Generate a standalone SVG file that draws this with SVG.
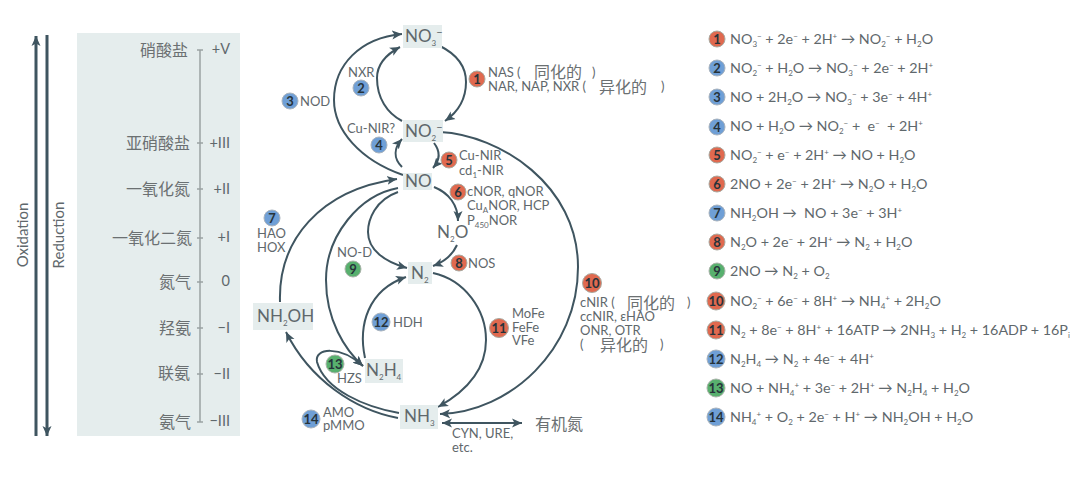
<svg xmlns="http://www.w3.org/2000/svg" width="1080" height="484" viewBox="0 0 1080 484">
<style>
text{font-family:"Lato","Noto Sans CJK SC",sans-serif;fill:#5f686c;font-size:13px}
.cn{font-family:"Noto Sans CJK SC",sans-serif;font-size:16px;fill:#6b7072}
.ax{font-size:14.5px}
.nd{font-size:17px}
.eq{font-size:14.3px}
.s{font-size:8px}
.n{font-family:"Lato",sans-serif;font-weight:700;font-size:13px;fill:#26333a;text-anchor:middle}
.bx{fill:#e5eded}
.r{fill:#e0694f;stroke:#a9a9a0}
.b{fill:#6f9fd6;stroke:#a9b3bd}
.g{fill:#58b06e;stroke:#a9b3a9}
.c{fill:none;stroke:#3f5560;stroke-width:2;marker-end:url(#a)}
.t{stroke:#9aa2a3;stroke-width:1.5;fill:none}
</style>
<defs>
<marker id="a" markerUnits="userSpaceOnUse" markerWidth="11" markerHeight="10" refX="10" refY="5" orient="auto-start-reverse"><path d="M0,0.5L10,5L0,9.5L2.5,5z" fill="#3f5560"/></marker>
</defs>
<rect width="1080" height="484" fill="#fff"/>
<g id="scale">
<rect class="bx" x="77" y="33" width="163" height="403"/>
<path class="t" d="M200,50V422M197,50h6M197,143h6M197,189h6M197,238h6M197,282h6M197,328h6M197,374h6M197,422h6"/>
<text class="cn" text-anchor="end" x="188" y="56">硝酸盐</text>
<text class="cn" text-anchor="end" x="190" y="149">亚硝酸盐</text>
<text class="cn" text-anchor="end" x="190" y="195">一氧化氮</text>
<text class="cn" text-anchor="end" x="192" y="244">一氧化二氮</text>
<text class="cn" text-anchor="end" x="191" y="288">氮气</text>
<text class="cn" text-anchor="end" x="191" y="334">羟氨</text>
<text class="cn" text-anchor="end" x="190" y="379">联氨</text>
<text class="cn" text-anchor="end" x="191" y="428">氨气</text>
<g text-anchor="end">
<text class="ax" x="230" y="54">+V</text>
<text class="ax" x="230" y="148">+III</text>
<text class="ax" x="230" y="194">+II</text>
<text class="ax" x="230" y="242">+I</text>
<text class="ax" x="230" y="286">0</text>
<text class="ax" x="230" y="333">−I</text>
<text class="ax" x="230" y="379">−II</text>
<text class="ax" x="230" y="426">−III</text>
</g>
</g>
<g id="axes">
<path d="M36,436V36" stroke="#3f5560" stroke-width="3" fill="none" marker-end="url(#a)"/>
<path d="M47,35V436" stroke="#3f5560" stroke-width="3" fill="none" marker-end="url(#a)"/>
<text transform="translate(28,235) rotate(-90)" text-anchor="middle" style="font-size:15px">Oxidation</text>
<text transform="translate(64,235) rotate(-90)" text-anchor="middle" style="font-size:15px">Reduction</text>
</g>
<g id="connectors">
<path class="c" d="M440,46C458,55 466,68 466,82C466,100 458,112 445,121"/>
<path class="c" d="M402,121C387,113 377,98 377,78C377,65 385,55 400,47"/>
<path class="c" d="M403,175C360,160 334,130 334,100C334,65 360,38 402,34"/>
<path class="c" d="M402,167C393,158 394,148 402,139"/>
<path class="c" d="M434,143C441,152 440,160 433,168"/>
<path class="c" d="M434,187C449,193 458,205 458,221"/>
<path class="c" d="M280,302C278,240 320,190 397,179"/>
<path class="c" d="M398,188C360,195 326,235 326,280C326,320 345,350 363,366"/>
<path class="c" d="M398,192C375,200 368,220 368,232C368,250 385,262 407,268"/>
<path class="c" d="M457,245C452,256 444,262 433,266"/>
<path class="c" d="M365,358C358,325 368,290 406,277"/>
<path class="c" d="M399,413C365,407 325,390 317,362C314,348 340,345 363,366"/>
<path class="c" d="M398,418C355,410 310,380 286,332"/>
<path class="c" d="M433,273C465,280 486,310 486,340C486,370 465,392 438,407"/>
<path class="c" d="M440,132C500,135 578,185 578,267C578,350 510,412 440,414"/>
<path class="c" d="M442,423H522" style="marker-start:url(#a)"/>
</g>
<g id="node-no3"><rect class="bx" x="403" y="25" width="39" height="23"/><text class="nd" x="405" y="42">NO<tspan class="s" dy="4">3</tspan><tspan dy="-10" style="font-size:11px">−</tspan></text></g>
<g id="node-no2"><rect class="bx" x="403" y="120" width="40" height="22"/><text class="nd" x="405" y="137">NO<tspan class="s" dy="4">2</tspan><tspan dy="-10" style="font-size:11px">−</tspan></text></g>
<g id="node-no"><rect class="bx" x="403" y="173" width="29" height="17"/><text class="nd" x="405" y="187">NO</text></g>
<g id="node-n2o"><text class="nd" x="437" y="238">N<tspan class="s" dy="4">2</tspan><tspan dy="-4">O</tspan></text></g>
<g id="node-n2"><rect class="bx" x="408" y="262" width="24" height="22"/><text class="nd" x="411" y="279">N<tspan class="s" dy="4">2</tspan></text></g>
<g id="node-nh2oh"><rect class="bx" x="253" y="303" width="60" height="27"/><text class="nd" x="257" y="322">NH<tspan class="s" dy="4">2</tspan><tspan dy="-4">OH</tspan></text></g>
<g id="node-n2h4"><rect class="bx" x="365" y="359" width="38" height="24"/><text class="nd" x="366" y="376">N<tspan class="s" dy="4">2</tspan><tspan dy="-4">H</tspan><tspan class="s" dy="4">4</tspan></text></g>
<g id="node-nh3"><rect class="bx" x="400" y="405" width="38" height="24"/><text class="nd" x="404" y="422">NH<tspan class="s" dy="4">3</tspan></text></g>
<g id="enzyme-1"><circle class="r" cx="477" cy="79" r="8"/><text class="n" x="477" y="84">1</text><text x="488" y="77">NAS (</text><text class="cn" x="534" y="78">同化的</text><text x="592" y="77">)</text><text x="488" y="91">NAR, NAP, NXR (</text><text class="cn" x="599" y="93">异化的</text><text x="661" y="91">)</text></g>
<g id="enzyme-2"><text x="348" y="77">NXR</text><circle class="b" cx="361" cy="88" r="8"/><text class="n" x="361" y="93">2</text></g>
<g id="enzyme-3"><circle class="b" cx="290" cy="101" r="8"/><text class="n" x="290" y="106">3</text><text x="300" y="106">NOD</text></g>
<g id="enzyme-4"><text x="347" y="133">Cu-NIR?</text><circle class="b" cx="379" cy="145" r="8"/><text class="n" x="379" y="150">4</text></g>
<g id="enzyme-5"><circle class="r" cx="449" cy="160" r="8"/><text class="n" x="449" y="165">5</text><text x="459" y="160">Cu-NIR</text><text x="459" y="175">cd<tspan class="s" dy="3">1</tspan><tspan dy="-3">-NIR</tspan></text></g>
<g id="enzyme-6"><circle class="r" cx="458" cy="192" r="8"/><text class="n" x="458" y="197">6</text><text x="467" y="196">cNOR, qNOR</text><text x="467" y="210">Cu<tspan class="s" dy="3">A</tspan><tspan dy="-3">NOR, HCP</tspan></text><text x="467" y="225">P<tspan class="s" dy="3">450</tspan><tspan dy="-3">NOR</tspan></text></g>
<g id="enzyme-7"><circle class="b" cx="272" cy="218" r="8"/><text class="n" x="272" y="223">7</text><text x="257" y="238">HAO</text><text x="257" y="252">HOX</text></g>
<g id="enzyme-8"><circle class="r" cx="459" cy="263" r="8"/><text class="n" x="459" y="268">8</text><text x="468" y="268">NOS</text></g>
<g id="enzyme-9"><text x="337" y="257">NO-D</text><circle class="g" cx="353" cy="269" r="8"/><text class="n" x="353" y="274">9</text></g>
<g id="enzyme-10"><circle class="r" cx="592" cy="283" r="9.5"/><text class="n" x="592" y="288">10</text><text x="580" y="307">cNIR (</text><text class="cn" x="627" y="309">同化的</text><text x="687" y="307">)</text><text x="580" y="321">ccNIR, εHAO</text><text x="580" y="335">ONR, OTR</text><text x="580" y="349">(</text><text class="cn" x="600" y="351">异化的</text><text x="660" y="349">)</text></g>
<g id="enzyme-11"><circle class="r" cx="499" cy="328" r="9.5"/><text class="n" x="499" y="333">11</text><text x="512" y="318">MoFe</text><text x="512" y="332">FeFe</text><text x="512" y="345">VFe</text></g>
<g id="enzyme-12"><circle class="b" cx="381" cy="322" r="9"/><text class="n" x="381" y="327">12</text><text x="393" y="327">HDH</text></g>
<g id="enzyme-13"><circle class="g" cx="335" cy="364" r="9"/><text class="n" x="335" y="369">13</text><text x="337" y="383">HZS</text></g>
<g id="enzyme-14"><circle class="b" cx="311" cy="419" r="9"/><text class="n" x="311" y="424">14</text><text x="323" y="417">AMO</text><text x="323" y="430">pMMO</text></g>
<g id="organic"><text class="cn" x="535" y="430">有机氮</text><text x="452" y="438">CYN, URE,</text><text x="452" y="452">etc.</text></g>
<g id="legend">
<g id="eq-1"><circle class="r" cx="717" cy="39" r="8"/><text class="n" x="717" y="44">1</text><text class="eq" x="730" y="44">NO<tspan class="s" dy="3">3</tspan><tspan class="s" dy="-8">−</tspan><tspan dy="5"> + 2e</tspan><tspan class="s" dy="-5">−</tspan><tspan dy="5"> + 2H</tspan><tspan class="s" dy="-5">+</tspan><tspan dy="5"> → NO</tspan><tspan class="s" dy="3">2</tspan><tspan class="s" dy="-8">−</tspan><tspan dy="5"> + H</tspan><tspan class="s" dy="3">2</tspan><tspan dy="-3">O</tspan></text></g>
<g id="eq-2"><circle class="b" cx="717" cy="68" r="8"/><text class="n" x="717" y="73">2</text><text class="eq" x="730" y="73">NO<tspan class="s" dy="3">2</tspan><tspan class="s" dy="-8">−</tspan><tspan dy="5"> + H</tspan><tspan class="s" dy="3">2</tspan><tspan dy="-3">O → NO</tspan><tspan class="s" dy="3">3</tspan><tspan class="s" dy="-8">−</tspan><tspan dy="5"> + 2e</tspan><tspan class="s" dy="-5">−</tspan><tspan dy="5"> + 2H</tspan><tspan class="s" dy="-5">+</tspan></text></g>
<g id="eq-3"><circle class="b" cx="717" cy="97" r="8"/><text class="n" x="717" y="102">3</text><text class="eq" x="730" y="102">NO + 2H<tspan class="s" dy="3">2</tspan><tspan dy="-3">O → NO</tspan><tspan class="s" dy="3">3</tspan><tspan class="s" dy="-8">−</tspan><tspan dy="5"> + 3e</tspan><tspan class="s" dy="-5">−</tspan><tspan dy="5"> + 4H</tspan><tspan class="s" dy="-5">+</tspan></text></g>
<g id="eq-4"><circle class="b" cx="717" cy="127" r="8"/><text class="n" x="717" y="132">4</text><text class="eq" x="730" y="131">NO + H<tspan class="s" dy="3">2</tspan><tspan dy="-3">O → NO</tspan><tspan class="s" dy="3">2</tspan><tspan class="s" dy="-8">−</tspan><tspan dy="5"> +&#160; e</tspan><tspan class="s" dy="-5">−</tspan><tspan dy="5">&#160; + 2H</tspan><tspan class="s" dy="-5">+</tspan></text></g>
<g id="eq-5"><circle class="r" cx="717" cy="155" r="8"/><text class="n" x="717" y="160">5</text><text class="eq" x="730" y="160">NO<tspan class="s" dy="3">2</tspan><tspan class="s" dy="-8">−</tspan><tspan dy="5"> + e</tspan><tspan class="s" dy="-5">−</tspan><tspan dy="5"> + 2H</tspan><tspan class="s" dy="-5">+</tspan><tspan dy="5"> → NO + H</tspan><tspan class="s" dy="3">2</tspan><tspan dy="-3">O</tspan></text></g>
<g id="eq-6"><circle class="r" cx="717" cy="184" r="8"/><text class="n" x="717" y="189">6</text><text class="eq" x="730" y="189">2NO + 2e<tspan class="s" dy="-5">−</tspan><tspan dy="5"> + 2H</tspan><tspan class="s" dy="-5">+</tspan><tspan dy="5"> → N</tspan><tspan class="s" dy="3">2</tspan><tspan dy="-3">O + H</tspan><tspan class="s" dy="3">2</tspan><tspan dy="-3">O</tspan></text></g>
<g id="eq-7"><circle class="b" cx="717" cy="213" r="8"/><text class="n" x="717" y="218">7</text><text class="eq" x="730" y="218">NH<tspan class="s" dy="3">2</tspan><tspan dy="-3">OH →&#160; NO + 3e</tspan><tspan class="s" dy="-5">−</tspan><tspan dy="5"> + 3H</tspan><tspan class="s" dy="-5">+</tspan></text></g>
<g id="eq-8"><circle class="r" cx="717" cy="242" r="8"/><text class="n" x="717" y="247">8</text><text class="eq" x="730" y="247">N<tspan class="s" dy="3">2</tspan><tspan dy="-3">O + 2e</tspan><tspan class="s" dy="-5">−</tspan><tspan dy="5"> + 2H</tspan><tspan class="s" dy="-5">+</tspan><tspan dy="5"> → N</tspan><tspan class="s" dy="3">2</tspan><tspan dy="-3"> + H</tspan><tspan class="s" dy="3">2</tspan><tspan dy="-3">O</tspan></text></g>
<g id="eq-9"><circle class="g" cx="717" cy="271" r="8"/><text class="n" x="717" y="276">9</text><text class="eq" x="730" y="276">2NO → N<tspan class="s" dy="3">2</tspan><tspan dy="-3"> + O</tspan><tspan class="s" dy="3">2</tspan></text></g>
<g id="eq-10"><circle class="r" cx="716" cy="301" r="9"/><text class="n" x="716" y="306">10</text><text class="eq" x="730" y="306">NO<tspan class="s" dy="3">2</tspan><tspan class="s" dy="-8">−</tspan><tspan dy="5"> + 6e</tspan><tspan class="s" dy="-5">−</tspan><tspan dy="5"> + 8H</tspan><tspan class="s" dy="-5">+</tspan><tspan dy="5"> → NH</tspan><tspan class="s" dy="3">4</tspan><tspan class="s" dy="-8">+</tspan><tspan dy="5"> + 2H</tspan><tspan class="s" dy="3">2</tspan><tspan dy="-3">O</tspan></text></g>
<g id="eq-11"><circle class="r" cx="716" cy="330" r="9"/><text class="n" x="716" y="335">11</text><text class="eq" x="730" y="335">N<tspan class="s" dy="3">2</tspan><tspan dy="-3"> + 8e</tspan><tspan class="s" dy="-5">−</tspan><tspan dy="5"> + 8H</tspan><tspan class="s" dy="-5">+</tspan><tspan dy="5"> + 16ATP → 2NH</tspan><tspan class="s" dy="3">3</tspan><tspan dy="-3"> + H</tspan><tspan class="s" dy="3">2</tspan><tspan dy="-3"> + 16ADP + 16P</tspan><tspan class="s" dy="3">i</tspan></text></g>
<g id="eq-12"><circle class="b" cx="716" cy="359" r="9"/><text class="n" x="716" y="364">12</text><text class="eq" x="730" y="364">N<tspan class="s" dy="3">2</tspan><tspan dy="-3">H</tspan><tspan class="s" dy="3">4</tspan><tspan dy="-3"> → N</tspan><tspan class="s" dy="3">2</tspan><tspan dy="-3"> + 4e</tspan><tspan class="s" dy="-5">−</tspan><tspan dy="5"> + 4H</tspan><tspan class="s" dy="-5">+</tspan></text></g>
<g id="eq-13"><circle class="g" cx="716" cy="388" r="9"/><text class="n" x="716" y="393">13</text><text class="eq" x="730" y="393">NO + NH<tspan class="s" dy="3">4</tspan><tspan class="s" dy="-8">+</tspan><tspan dy="5"> + 3e</tspan><tspan class="s" dy="-5">−</tspan><tspan dy="5"> + 2H</tspan><tspan class="s" dy="-5">+</tspan><tspan dy="5"> → N</tspan><tspan class="s" dy="3">2</tspan><tspan dy="-3">H</tspan><tspan class="s" dy="3">4</tspan><tspan dy="-3"> + H</tspan><tspan class="s" dy="3">2</tspan><tspan dy="-3">O</tspan></text></g>
<g id="eq-14"><circle class="b" cx="716" cy="417" r="9"/><text class="n" x="716" y="422">14</text><text class="eq" x="730" y="422">NH<tspan class="s" dy="3">4</tspan><tspan class="s" dy="-8">+</tspan><tspan dy="5"> + O</tspan><tspan class="s" dy="3">2</tspan><tspan dy="-3"> + 2e</tspan><tspan class="s" dy="-5">−</tspan><tspan dy="5"> + H</tspan><tspan class="s" dy="-5">+</tspan><tspan dy="5"> → NH</tspan><tspan class="s" dy="3">2</tspan><tspan dy="-3">OH + H</tspan><tspan class="s" dy="3">2</tspan><tspan dy="-3">O</tspan></text></g>
</g>
</svg>
